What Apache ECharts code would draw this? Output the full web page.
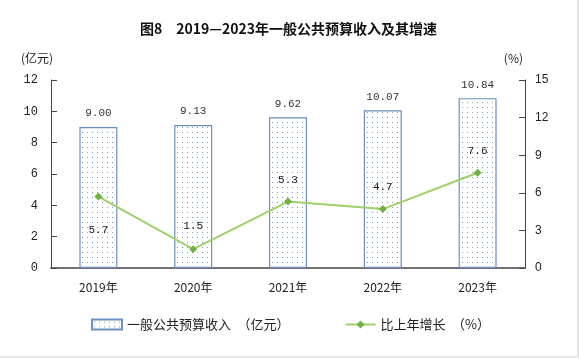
<!DOCTYPE html>
<html>
<head>
<meta charset="utf-8">
<script src="https://cdn.jsdelivr.net/npm/echarts@6/dist/echarts.min.js"></script>
<style>
html,body{margin:0;padding:0;background:#fff;}
#wrap{width:579px;height:358px;box-sizing:border-box;border-right:2px solid #e6e6e6;border-bottom:2px solid #e6e6e6;}
#chart{width:577px;height:356px;}
</style>
</head>
<body>
<div id="wrap"><div id="chart"></div></div>
<script>
const categories = ['2019年','2020年','2021年','2022年','2023年'];
const revenue = [9.00, 9.13, 9.62, 10.07, 10.84];
const growth = [5.7, 1.5, 5.3, 4.7, 7.6];
const leftTicks = [0, 2, 4, 6, 8, 10, 12];
const rightTicks = [0, 3, 6, 9, 12, 15];

const tile = document.createElement('canvas');
tile.width = 5; tile.height = 5;
const tc = tile.getContext('2d');
tc.fillStyle = '#ffffff'; tc.fillRect(0,0,5,5);
tc.fillStyle = '#7f9cc4'; tc.fillRect(2,2,1,1);

const chart = echarts.init(document.getElementById('chart'));
const numFont = '"Liberation Mono", "DejaVu Sans Mono", monospace';
const cjk = '"Noto Sans CJK SC", sans-serif';

chart.setOption({
  animation: false,
  backgroundColor: '#ffffff',
  title: {
    text: '图8　2019—2023年一般公共预算收入及其增速',
    left: 'center', top: 17,
    textStyle: {fontFamily: cjk, fontSize: 14, fontWeight: 'bold', color: '#111'}
  },
  legend: {
    bottom: 20, left: 86, itemGap: 55,
    itemWidth: 30, itemHeight: 10,
    textStyle: {fontFamily: cjk, fontSize: 13, color: '#222'},
    data: [
      {name: '一般公共预算收入　（亿元）', icon: 'rect'},
      {name: '比上年增长　（%）'}
    ]
  },
  grid: {left: 51, right: 52, top: 80, bottom: 88},
  xAxis: {
    type: 'category', data: categories,
    axisLine: {lineStyle: {color: '#444', width: 1.5}},
    axisTick: {show: false},
    axisLabel: {fontFamily: cjk, fontSize: 12, color: '#222', margin: 13}
  },
  yAxis: [
    {
      type: 'value', min: 0, max: 12, interval: 2,
      name: '(亿元)', nameLocation: 'end', nameGap: 16,
      nameTextStyle: {fontFamily: cjk, fontSize: 12, color: '#222', align: 'right', padding: [0, -2, 0, 0]},
      axisLine: {show: true, lineStyle: {color: '#444'}},
      axisTick: {show: true, inside: true, length: 6, lineStyle: {color: '#444'}},
      axisLabel: {fontFamily: numFont, fontSize: 12, color: '#222', margin: 13,
        formatter: v => leftTicks.includes(v) ? String(v) : ''},
      splitLine: {show: false}
    },
    {
      type: 'value', min: 0, max: 15, interval: 3,
      name: '(%)', nameLocation: 'end', nameGap: 16,
      nameTextStyle: {fontFamily: cjk, fontSize: 12, color: '#222', align: 'right', padding: [0, 2, 0, 0]},
      axisLine: {show: true, lineStyle: {color: '#444'}},
      axisTick: {show: true, inside: true, length: 6, lineStyle: {color: '#444'}},
      axisLabel: {fontFamily: '"Liberation Sans", sans-serif', fontSize: 12, color: '#222', margin: 10,
        formatter: v => rightTicks.includes(v) ? String(v) : ''},
      splitLine: {show: false}
    }
  ],
  series: [
    {
      name: '一般公共预算收入　（亿元）', type: 'bar', yAxisIndex: 0,
      data: revenue, barWidth: 38,
      itemStyle: {color: {image: tile, repeat: 'repeat'}, borderColor: '#6a8fc0', borderWidth: 1.2},
      label: {show: true, position: 'top', distance: 8,
        fontFamily: numFont, fontSize: 11, color: '#333',
        formatter: p => p.value.toFixed(2)}
    },
    {
      name: '比上年增长　（%）', type: 'line', yAxisIndex: 1,
      data: growth.map((v, i) => ({value: v, label: {position: i === 0 ? 'bottom' : 'top', distance: i === 0 ? 24 : (i === 1 ? 14 : 12)}})),
      symbol: 'diamond', symbolSize: 8,
      lineStyle: {color: '#9fd06a', width: 2},
      itemStyle: {color: '#72b043'},
      label: {show: true, fontFamily: numFont, fontSize: 11, color: '#222',
        formatter: p => p.value.toFixed(1)},
      z: 3
    }
  ]
});
</script>
</body>
</html>
